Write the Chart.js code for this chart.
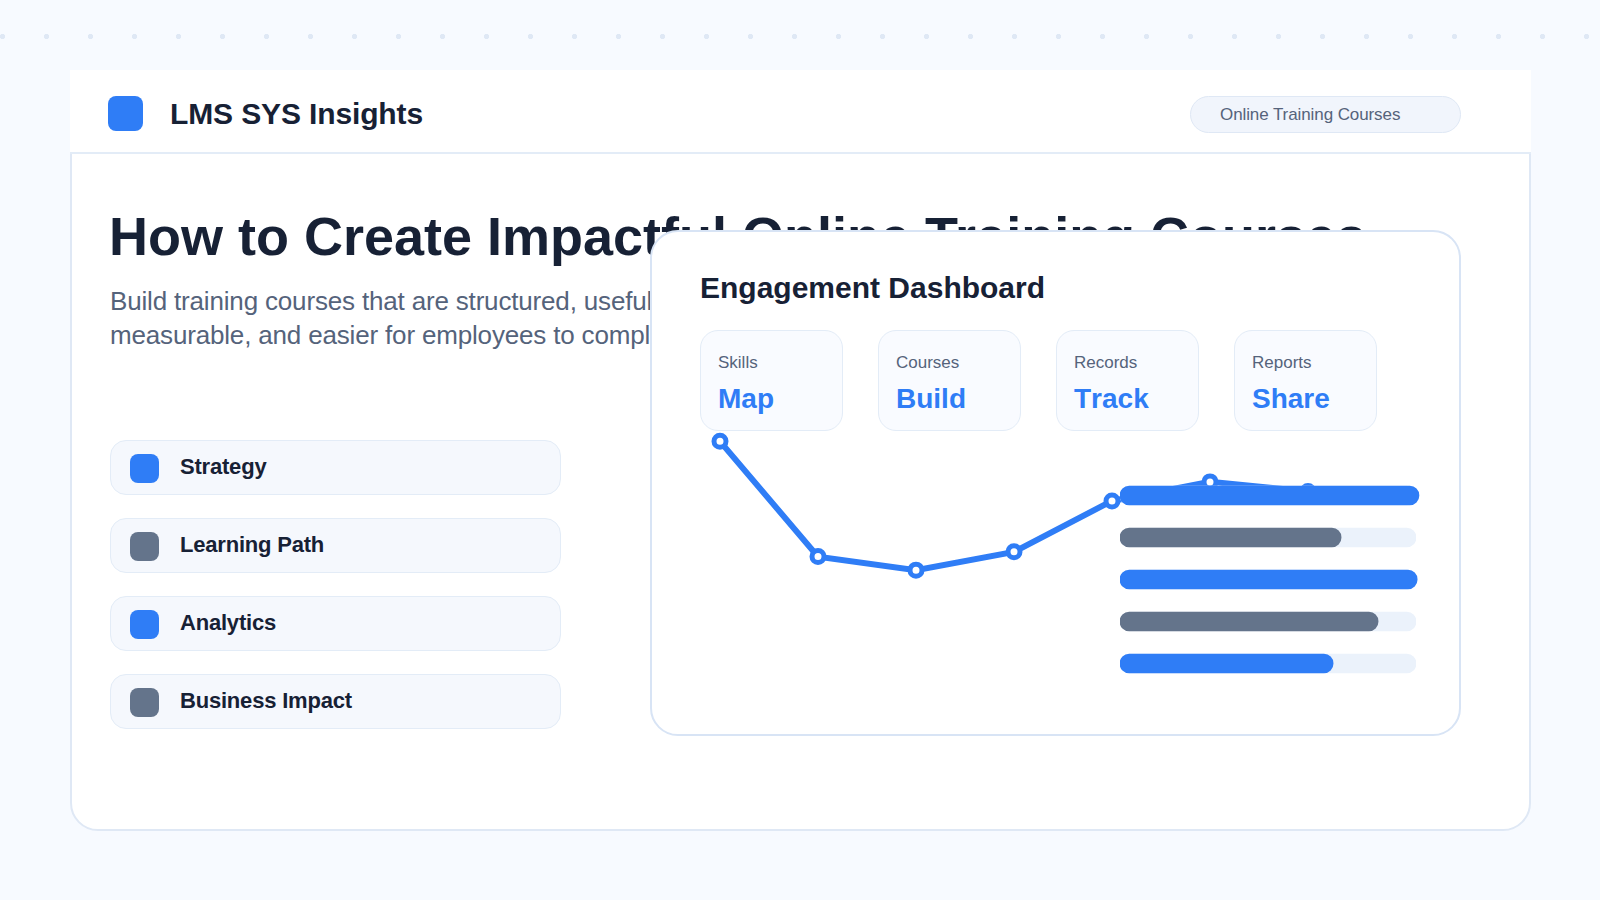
<!DOCTYPE html>
<html>
<head>
<meta charset="utf-8">
<title>How to Create Impactful Online Training Courses</title>
<script src="https://cdn.jsdelivr.net/npm/chart.js@4"></script>
<style>
  * { box-sizing: border-box; }
  html, body { margin: 0; width: 1600px; height: 900px; overflow: hidden; background: #f7faff; }
  body { position: relative; font-family: "Liberation Sans", Arial, sans-serif; color: #172135; }
  .abs, .abs-text { position: absolute; }
  .abs-text { white-space: nowrap; }
  #dots { left: 0; top: 33.5px; width: 1600px; height: 5px; background-image: radial-gradient(circle at 2.5px 2.5px, #dfe8f5 2.4px, transparent 2.9px); background-size: 44px 5px; }
  #card { left: 70px; top: 70px; width: 1461px; height: 761px; background: #fff; border: 2px solid #dfe8f5; border-radius: 28px; }
  #header { left: 70px; top: 70px; width: 1461px; height: 84px; background: #fff; border-bottom: 2px solid #e3ecf7; }
  #logo { left: 108px; top: 96px; width: 35px; height: 35px; background: #2f7df6; border-radius: 8px; }
  #brand { left: 170px; top: 96px; font-size: 30px; font-weight: 700; line-height: 36px; letter-spacing: -0.13px; }
  #pill { left: 1190px; top: 96px; width: 271px; height: 37px; background: #f1f5fc; border: 1px solid #dfe8f5; border-radius: 19px; }
  #pill-text { left: 1220px; top: 104px; font-size: 17px; line-height: 22px; color: #55637b; letter-spacing: -0.09px; }
  #headline { left: 109px; top: 204px; font-size: 54px; font-weight: 700; line-height: 64px; }
  .sub { left: 110px; font-size: 26px; line-height: 34px; color: #55637b; letter-spacing: -0.17px; }
  .item { left: 110px; width: 451px; height: 55px; background: #f5f8fd; border: 1px solid #e3ecf7; border-radius: 16px; }
  .swatch { left: 130px; width: 29px; height: 29px; border-radius: 8px; }
  .item-text { left: 180px; font-size: 22px; font-weight: 700; line-height: 28px; letter-spacing: -0.2px; }
  #panel { left: 650px; top: 230px; width: 811px; height: 506px; background: #fff; border: 2px solid #d8e4f5; border-radius: 28px; }
  #panel-title { left: 700px; top: 270px; font-size: 30px; font-weight: 700; line-height: 36px; }
  .mini { top: 330px; width: 143px; height: 101px; background: #f9fbff; border: 1px solid #e3ecf7; border-radius: 18px; }
  .mini-label { top: 352px; font-size: 17px; line-height: 21px; color: #55637b; }
  .mini-value { top: 381px; font-size: 28px; font-weight: 700; line-height: 36px; color: #2f7df6; font-kerning: none; }
  #lineChart { left: 700px; top: 420px; }
  #barChart { left: 1120px; top: 474px; }
</style>
</head>
<body>
<div id="dots" class="abs"></div>
<div id="card" class="abs"></div>
<div id="header" class="abs"></div>
<div id="logo" class="abs"></div>
<div id="brand" class="abs-text">LMS SYS Insights</div>
<div id="pill" class="abs"></div>
<div id="pill-text" class="abs-text">Online Training Courses</div>
<div id="headline" class="abs-text">How to Create Impactful Online Training Courses</div>
<div class="abs-text sub" style="top:284px">Build training courses that are structured, useful,</div>
<div class="abs-text sub" style="top:318px">measurable, and easier for employees to complete.</div>
<div id="items"></div>
<div id="panel" class="abs"></div>
<div id="panel-title" class="abs-text">Engagement Dashboard</div>
<div id="minis"></div>
<canvas id="lineChart" class="abs" width="740" height="190"></canvas>
<canvas id="barChart" class="abs" width="320" height="211"></canvas>

<script>
const BLUE = '#2f7df6';
const SLATE = '#64748b';

const itemLabels = ['Strategy', 'Learning Path', 'Analytics', 'Business Impact'];
const itemColors = [BLUE, SLATE, BLUE, SLATE];

const miniLabels = ['Skills', 'Courses', 'Records', 'Reports'];
const miniValues = ['Map', 'Build', 'Track', 'Share'];

const lineLabels = ['1', '2', '3', '4', '5', '6', '7'];
const lineValues = [93.5, 21, 12.5, 24, 56, 68, 62];

const barLabels = ['1', '2', '3', '4', '5'];
const barValues = [101, 74.7, 100.4, 87.2, 72];
const barColors = [BLUE, SLATE, BLUE, SLATE, BLUE];
const trackValues = [100, 100, 100, 100, 100];

// left column rows
const items = document.getElementById('items');
itemLabels.forEach((label, i) => {
    const top = 440 + i * 78;
    items.insertAdjacentHTML('beforeend',
        `<div class="abs item" style="top:${top}px"></div>` +
        `<div class="abs swatch" style="top:${top + 14}px;background:${itemColors[i]}"></div>` +
        `<div class="abs-text item-text" style="top:${top + 13}px">${label}</div>`);
});

// stat cards
const minis = document.getElementById('minis');
miniLabels.forEach((label, i) => {
    const left = 700 + i * 178;
    minis.insertAdjacentHTML('beforeend',
        `<div class="abs mini" style="left:${left}px"></div>` +
        `<div class="abs-text mini-label" style="left:${left + 18}px">${label}</div>` +
        `<div class="abs-text mini-value" style="left:${left + 18}px">${miniValues[i]}</div>`);
});

const hidden = { display: false };
const quiet = { legend: hidden, tooltip: { enabled: false } };

new Chart(document.getElementById('lineChart'), {
    type: 'line',
    data: {
        labels: lineLabels,
        datasets: [{
            data: lineValues,
            borderColor: BLUE,
            borderWidth: 6,
            tension: 0,
            clip: false,
            pointRadius: 6,
            pointBorderWidth: 5,
            pointBackgroundColor: '#fff',
            pointBorderColor: BLUE
        }]
    },
    options: {
        responsive: false,
        animation: false,
        layout: { padding: { left: 20, right: 132, top: 10, bottom: 20 } },
        plugins: quiet,
        scales: {
            x: { display: false },
            y: { display: false, min: 0, max: 100 }
        }
    }
});

new Chart(document.getElementById('barChart'), {
    type: 'bar',
    data: {
        labels: barLabels,
        datasets: [{
            data: barValues,
            backgroundColor: barColors,
            order: 1,
            clip: false
        }, {
            data: trackValues,
            backgroundColor: '#ebf2fb',
            order: 2
        }]
    },
    options: {
        indexAxis: 'y',
        responsive: false,
        animation: false,
        layout: { padding: { right: 24, top: 0.5, bottom: 0.5 } },
        plugins: quiet,
        datasets: {
            bar: { grouped: false, barThickness: 19, borderRadius: 9.5, borderSkipped: false }
        },
        scales: {
            x: { display: false, min: 0, max: 100 },
            y: { display: false }
        }
    }
});
</script>
</body>
</html>
